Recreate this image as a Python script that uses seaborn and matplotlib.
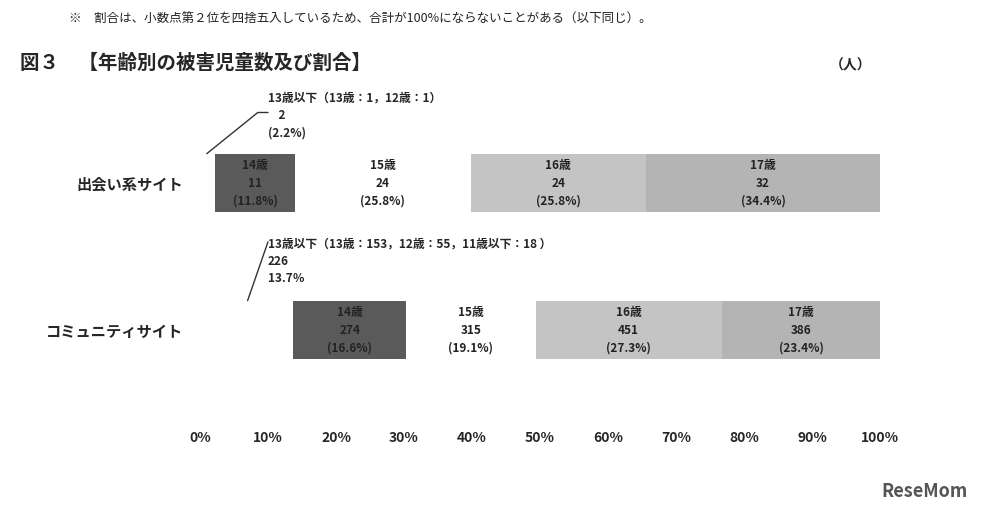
import matplotlib
matplotlib.use("Agg")
import matplotlib.pyplot as plt
import seaborn as sns
import numpy as np
import pandas as pd

sns.set_theme(style="white")
plt.rcParams['font.family'] = ['Noto Sans CJK JP', 'DejaVu Sans']

categories = ["出会い系サイト", "コミュニティサイト"]
segments = ["13歳以下", "14歳", "15歳", "16歳", "17歳"]
pct_deai = [2.2, 11.8, 25.8, 25.8, 34.4]
pct_comm = [13.7, 16.6, 19.1, 27.3, 23.4]
cnt_deai = [2, 11, 24, 24, 32]
cnt_comm = [226, 274, 315, 451, 386]
colors = ["#ffffff", "#5a5a5a", "#ffffff", "#c4c4c4", "#b4b4b4"]
xticks = [0, 10, 20, 30, 40, 50, 60, 70, 80, 90, 100]

fig = plt.figure(figsize=(9.82, 5.12), dpi=100)
ax = fig.add_axes([200/982, 1-400/512, 680/982, 300/512])

pcts = np.array([pct_deai, pct_comm])
cums = np.cumsum(pcts, axis=1)
cums[:, -1] = 100
for i in range(len(segments)-1, -1, -1):
    df = pd.DataFrame({"cat": categories, "val": cums[:, i]})
    sns.barplot(data=df, x="val", y="cat", orient="h", color=colors[i],
                width=0.39, ax=ax, saturation=1, edgecolor="none")

cnts = [cnt_deai, cnt_comm]
for r in range(2):
    left = 0
    for i in range(len(segments)):
        w = pcts[r, i]
        if i > 0:
            ax.text(left + w/2, r, f"{segments[i]}\n{cnts[r][i]}\n({w}%)",
                    ha="center", va="center", fontsize=8.5, fontweight="bold",
                    color="#222222", linespacing=1.5)
        left += w

ax.set_xlim(0, 100)
ax.set_ylim(1.476, -0.565)
ax.set_xticks(xticks)
ax.set_xticklabels([f"{t}%" for t in xticks], fontsize=10, fontweight="bold")
ax.tick_params(axis="x", pad=22, length=0)
ax.tick_params(axis="y", length=0, pad=12)
ax.set_yticks([0, 1])
ax.set_yticklabels(categories, fontsize=11, fontweight="bold")
ax.set_xlabel(""); ax.set_ylabel("")
for s in ax.spines.values():
    s.set_visible(False)

ax.text(10, -0.62, "13歳以下（13歳：1，12歳：1）\n    2\n(2.2%)", ha="left", va="top",
        fontsize=8.5, fontweight="bold", linespacing=1.45, clip_on=False)
ax.plot([1.0, 8.5, 10.0], [-0.2, -0.48, -0.48], color="#333", lw=1, clip_on=False)
ax.text(10, 0.37, "13歳以下（13歳：153，12歳：55，11歳以下：18 ）\n226\n13.7％", ha="left", va="top",
        fontsize=8.5, fontweight="bold", linespacing=1.45)
ax.plot([7.0, 10.0], [0.8, 0.4], color="#333", lw=1)

fig.text(0.07, 0.955, "※　割合は、小数点第２位を四捨五入しているため、合計が100%にならないことがある（以下同じ）。",
         fontsize=9, color="#222")
fig.text(0.02, 0.865, "図３　【年齢別の被害児童数及び割合】", fontsize=14, fontweight="bold")
fig.text(0.845, 0.865, "（人）", fontsize=10, fontweight="bold")
fig.text(0.985, 0.03, "ReseMom", ha="right", fontsize=13, fontweight="bold", color="#555")

fig.savefig("out.png", dpi=100, facecolor="white")
